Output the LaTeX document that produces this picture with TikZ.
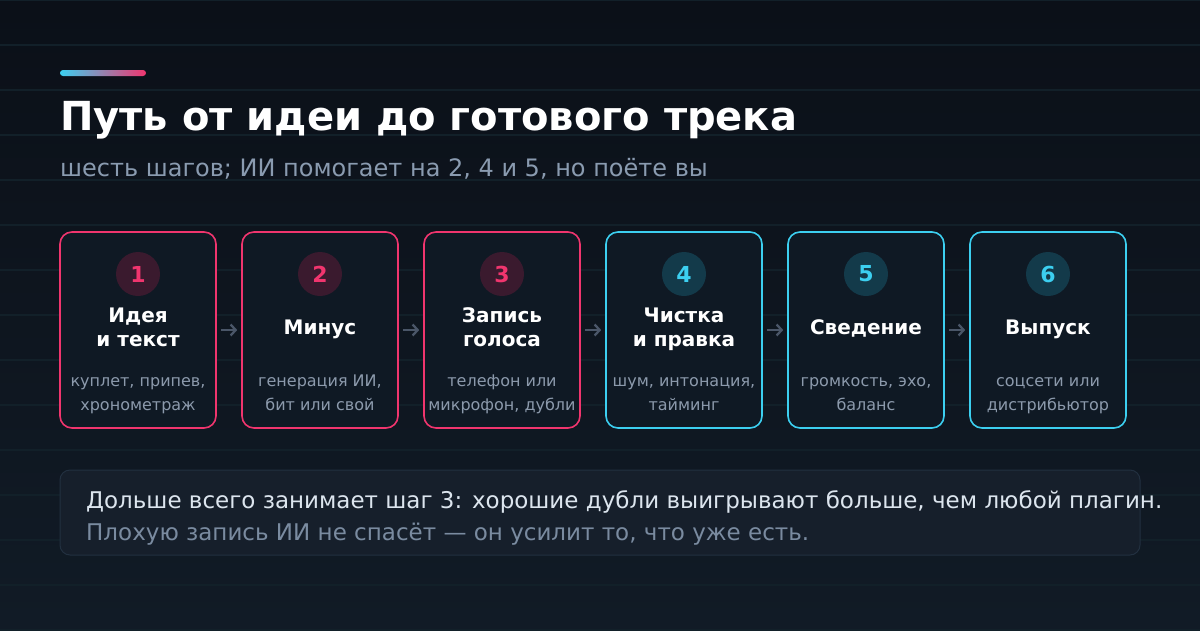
\documentclass[tikz,border=0pt]{standalone}
\usepackage{fontspec}
\setmainfont{DejaVu Sans}
\usetikzlibrary{arrows.meta,positioning}
\definecolor{bgA}{HTML}{0B1018}
\definecolor{bgB}{HTML}{111B26}
\definecolor{gridc}{HTML}{122029}
\definecolor{pinkc}{HTML}{F0356E}
\definecolor{cyanc}{HTML}{3CCFF0}
\definecolor{pinkbg}{HTML}{3A1A2E}
\definecolor{cyanbg}{HTML}{133A4A}
\definecolor{cardbg}{HTML}{0F1924}
\definecolor{subc}{HTML}{8A9BB0}
\definecolor{cardsub}{HTML}{8C9AAC}
\definecolor{arrc}{HTML}{4A5668}
\definecolor{notebg}{HTML}{161F2B}
\definecolor{noteb}{HTML}{223040}
\definecolor{notet}{HTML}{DCE5EE}
\definecolor{notes}{HTML}{7A8BA0}
\tikzset{
  card/.style={draw=#1,line width=1.6pt,rounded corners=12pt,fill=cardbg,minimum width=156pt,minimum height=196pt,inner sep=0pt},
  numc/.style={circle,fill=#1bg,text=#1c,minimum size=44pt,inner sep=0pt,font=\fontsize{22}{26}\selectfont\bfseries},
  ctitle/.style={text=white,align=center,font=\fontsize{20}{24}\selectfont\bfseries,inner sep=0pt},
  csub/.style={text=cardsub,align=center,font=\fontsize{16}{24}\selectfont,inner sep=0pt},
  flow/.style={draw=arrc,line width=2.3pt,-{Straight Barb[length=5pt,width=11pt]},shorten <=4pt,shorten >=4pt}
}
\begin{document}
\begin{tikzpicture}[x=1pt,y=-1pt]
\useasboundingbox (0,0) rectangle (1200,630);
\shade[left color=bgA,right color=bgB,shading angle=0] (0,0) rectangle (1200,630);
\foreach \yy in {0,45,...,630} \draw[gridc,line width=1.2pt] (0,\yy) -- (1200,\yy);
\shade[left color=cyanc,right color=pinkc,rounded corners=3pt] (60,70) rectangle (146,76);
\node[anchor=base west,inner sep=0pt,text=white,font=\fontsize{40}{46}\selectfont\bfseries] (title) at (60,130) {Путь от идеи до готового трека};
\node[anchor=base west,inner sep=0pt,text=subc,font=\fontsize{24}{28}\selectfont] (subtitle) at (60,176) {шесть шагов; ИИ помогает на 2, 4 и 5, но поёте вы};
\foreach \i/\c/\t/\s in {1/pink/{\strut Идея\\\strut и текст}/{\strut куплет, припев,\\\strut хронометраж},
  2/pink/{\strut Минус}/{\strut генерация ИИ,\\\strut бит или свой},
  3/pink/{\strut Запись\\\strut голоса}/{\strut телефон или\\\strut микрофон, дубли},
  4/cyan/{\strut Чистка\\\strut и правка}/{\strut шум, интонация,\\\strut тайминг},
  5/cyan/{\strut Сведение}/{\strut громкость, эхо,\\\strut баланс},
  6/cyan/{\strut Выпуск}/{\strut соцсети или\\\strut дистрибьютор}} {
  \pgfmathsetmacro{\cx}{138+182*(\i-1)}
  \node[card=\c c] (card\i) at (\cx,330) {};
  \node[numc=\c] (num\i) at (\cx,274) {\i};
  \node[ctitle] (ttl\i) at (\cx,329.2) {\t};
  \node[csub] (sub\i) at (\cx,393.5) {\s};
}
\foreach \i [evaluate=\i as \j using int(\i+1)] in {1,...,5} \draw[flow] (card\i.east) -- (card\j.west);
\node[draw=noteb,line width=1pt,fill=notebg,rounded corners=10pt,minimum width=1080pt,minimum height=85pt,inner sep=0pt] (note) at (600,512.5) {};
\node[anchor=base west,inner sep=0pt,text=notet,font=\fontsize{23}{27}\selectfont] (note1) at (86,508) {Дольше всего занимает шаг 3: хорошие дубли выигрывают больше, чем любой плагин.};
\node[anchor=base west,inner sep=0pt,text=notes,font=\fontsize{23}{27}\selectfont] (note2) at (86,540) {Плохую запись ИИ не спасёт — он усилит то, что уже есть.};
\end{tikzpicture}
\end{document}
